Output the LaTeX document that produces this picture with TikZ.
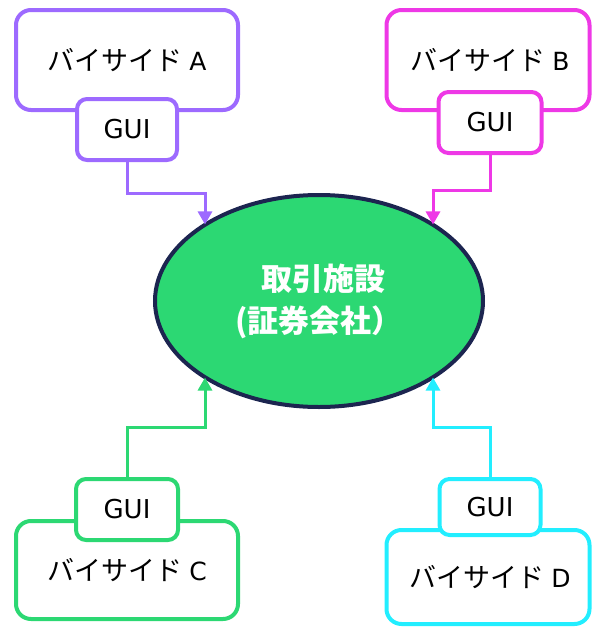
\documentclass[tikz,border=0pt]{standalone}
\usepackage{fontspec}
\setmainfont{Noto Sans CJK JP}
\newfontfamily\latinfont{DejaVu Sans}
\usetikzlibrary{arrows.meta,shapes.geometric}
\definecolor{cA}{HTML}{9D6AFF}
\definecolor{cB}{HTML}{EE38E6}
\definecolor{cC}{HTML}{2CD873}
\definecolor{cD}{HTML}{22EEFF}
\definecolor{navy}{HTML}{1C2550}
\definecolor{ellfill}{HTML}{2CD873}
\newcommand{\lat}[1]{{\latinfont\fontsize{25}{28}\selectfont #1}}
\tikzset{
  bigbox/.style={draw=#1, line width=4pt, rounded corners=15pt, fill=white, inner sep=0pt, font=\fontsize{27}{30}\selectfont},
  guibox/.style={draw=#1, line width=4pt, rounded corners=10pt, fill=white, inner sep=0pt, font=\latinfont\fontsize{26}{30}\selectfont},
  conn/.style={draw=#1, line width=3pt, -{Triangle[width=14pt,length=13pt]}},
}
\begin{document}
\begin{tikzpicture}[x=1pt,y=-1pt]
\useasboundingbox (0,0) rectangle (592,627);
% big boxes
\node[bigbox=cA, minimum width=222pt, minimum height=100pt] (boxA) at (127,60) {\raisebox{-3pt}{バイサイド\hspace{7pt}\lat{A}}};
\node[bigbox=cB, minimum width=203pt, minimum height=100pt] (boxB) at (488,60) {\raisebox{-1pt}{\hspace*{4pt}バイサイド\hspace{7pt}\lat{B}}};
\node[bigbox=cC, minimum width=222pt, minimum height=98pt] (boxC) at (127,570) {\raisebox{-3pt}{バイサイド\hspace{7pt}\lat{C}}};
\node[bigbox=cD, minimum width=203pt, minimum height=94pt] (boxD) at (488,577) {\raisebox{-1pt}{\hspace*{4pt}バイサイド\hspace{7pt}\lat{D}}};
% gui boxes
\node[guibox=cA, minimum width=100pt, minimum height=61pt] (guiA) at (127,129.5) {GUI};
\node[guibox=cB, minimum width=103pt, minimum height=61pt] (guiB) at (490,122.5) {GUI};
\node[guibox=cC, minimum width=102pt, minimum height=61pt] (guiC) at (127,509.5) {GUI};
\node[guibox=cD, minimum width=101pt, minimum height=56pt] (guiD) at (490,507) {GUI};
% ellipse
\node[ellipse, draw=navy, fill=ellfill, line width=4pt, minimum width=328pt, minimum height=212pt, outer sep=0pt,
  text=white, font=\bfseries\fontsize{31}{42}\selectfont, align=center] (ell) at (319,301)
  {\raisebox{4pt}{\hspace*{8pt}取引施設}\\\raisebox{4pt}{(証券会社）}};
% bends
\coordinate (bA) at (205,193);
\coordinate (bB) at (433,190);
\coordinate (bC) at (205,427);
\coordinate (bD) at (433,427);
\draw[conn=cA] (guiA.south) |- (bA) -- (bA |- ell.146);
\draw[conn=cB] (guiB.south) |- (bB) -- (bB |- ell.34);
\draw[conn=cC] (guiC.north) |- (bC) -- (bC |- ell.214);
\draw[conn=cD] (guiD.north) |- (bD) -- (bD |- ell.326);
\end{tikzpicture}
\end{document}
